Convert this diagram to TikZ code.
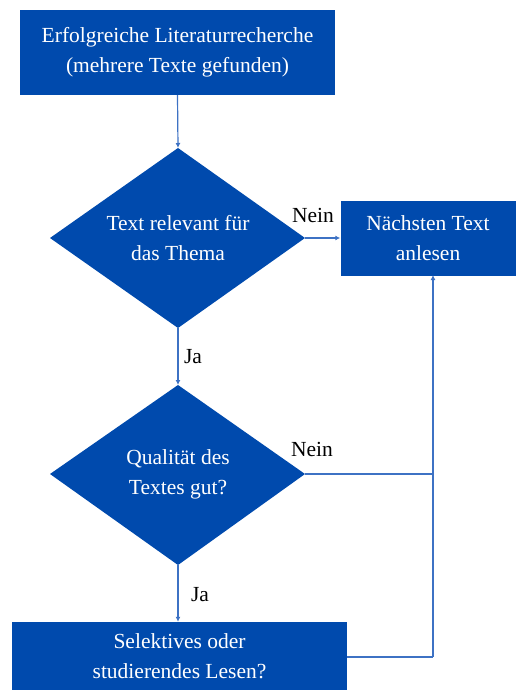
\documentclass[tikz,border=0pt]{standalone}
\usepackage{fontspec}
\setmainfont{Liberation Serif}
\newfontfamily\dfont{Liberation Serif}
\usetikzlibrary{arrows.meta,shapes.geometric}
\definecolor{boxblue}{HTML}{004AAD}
\definecolor{lineblue}{HTML}{3D72C4}
\begin{document}
\begin{tikzpicture}[x=1pt,y=-1pt,
  txt/.style={font=\dfont\fontsize{21.5}{30}\selectfont, align=center},
  boxnode/.style={txt, fill=boxblue, text=white, inner sep=0pt},
  lbl/.style={font=\dfont\fontsize{21.5}{24}\selectfont, text=black, inner sep=0pt},
  conn/.style={draw=lineblue, line width=1.2pt},
  arr/.style={conn, -{Latex[length=5pt,width=5pt]}}
]
\useasboundingbox (0,0) rectangle (516,690);
% boxes
\node[boxnode, minimum width=315pt, minimum height=85pt] (start) at (177.5,52.5) {Erfolgreiche Literaturrecherche\\(mehrere Texte gefunden)};
\node[boxnode, minimum width=175pt, minimum height=75pt] (next) at (428,238) {Nächsten Text\\anlesen};
\node[boxnode, minimum width=335pt, minimum height=68pt] (read) at (179.5,656) {Selektives oder\\studierendes Lesen?};
% diamonds
\fill[boxblue] (178,148) -- (305,238) -- (178,328) -- (50,238) -- cycle;
\node[txt, text=white] (d1) at (178,238) {Text relevant für\\das Thema};
\coordinate (d1t) at (178,148);
\coordinate (d1b) at (178,328);
\coordinate (d1r) at (305,238);
\fill[boxblue] (178,385) -- (305,474) -- (178,565) -- (50,474) -- cycle;
\node[txt, text=white] (d2) at (178,474) {Qualität des\\Textes gut?};
\coordinate (d2t) at (178,385);
\coordinate (d2b) at (178,565);
\coordinate (d2r) at (305,474);
\coordinate (j2) at (433,474);
\coordinate (j3) at (433,657);
\coordinate (nextb) at (433,275);
% connectors
\draw[arr] (start.south) -- (d1t);
\draw[arr] (d1r) -- (next.west);
\draw[arr] (d1b) -- (d2t);
\draw[arr] (d2b) -- (read.north -| d2b);
\draw[conn] (d2r) -- (j2);
\draw[conn] (read.east |- j3) -- (j3);
\draw[arr] (j3) -- (nextb);
% labels
\node[lbl] (n1) at (313,215) {Nein};
\node[lbl] (ja1) at (193,357) {Ja};
\node[lbl] (n2) at (312,449) {Nein};
\node[lbl] (ja2) at (200,595) {Ja};
\end{tikzpicture}
\end{document}
